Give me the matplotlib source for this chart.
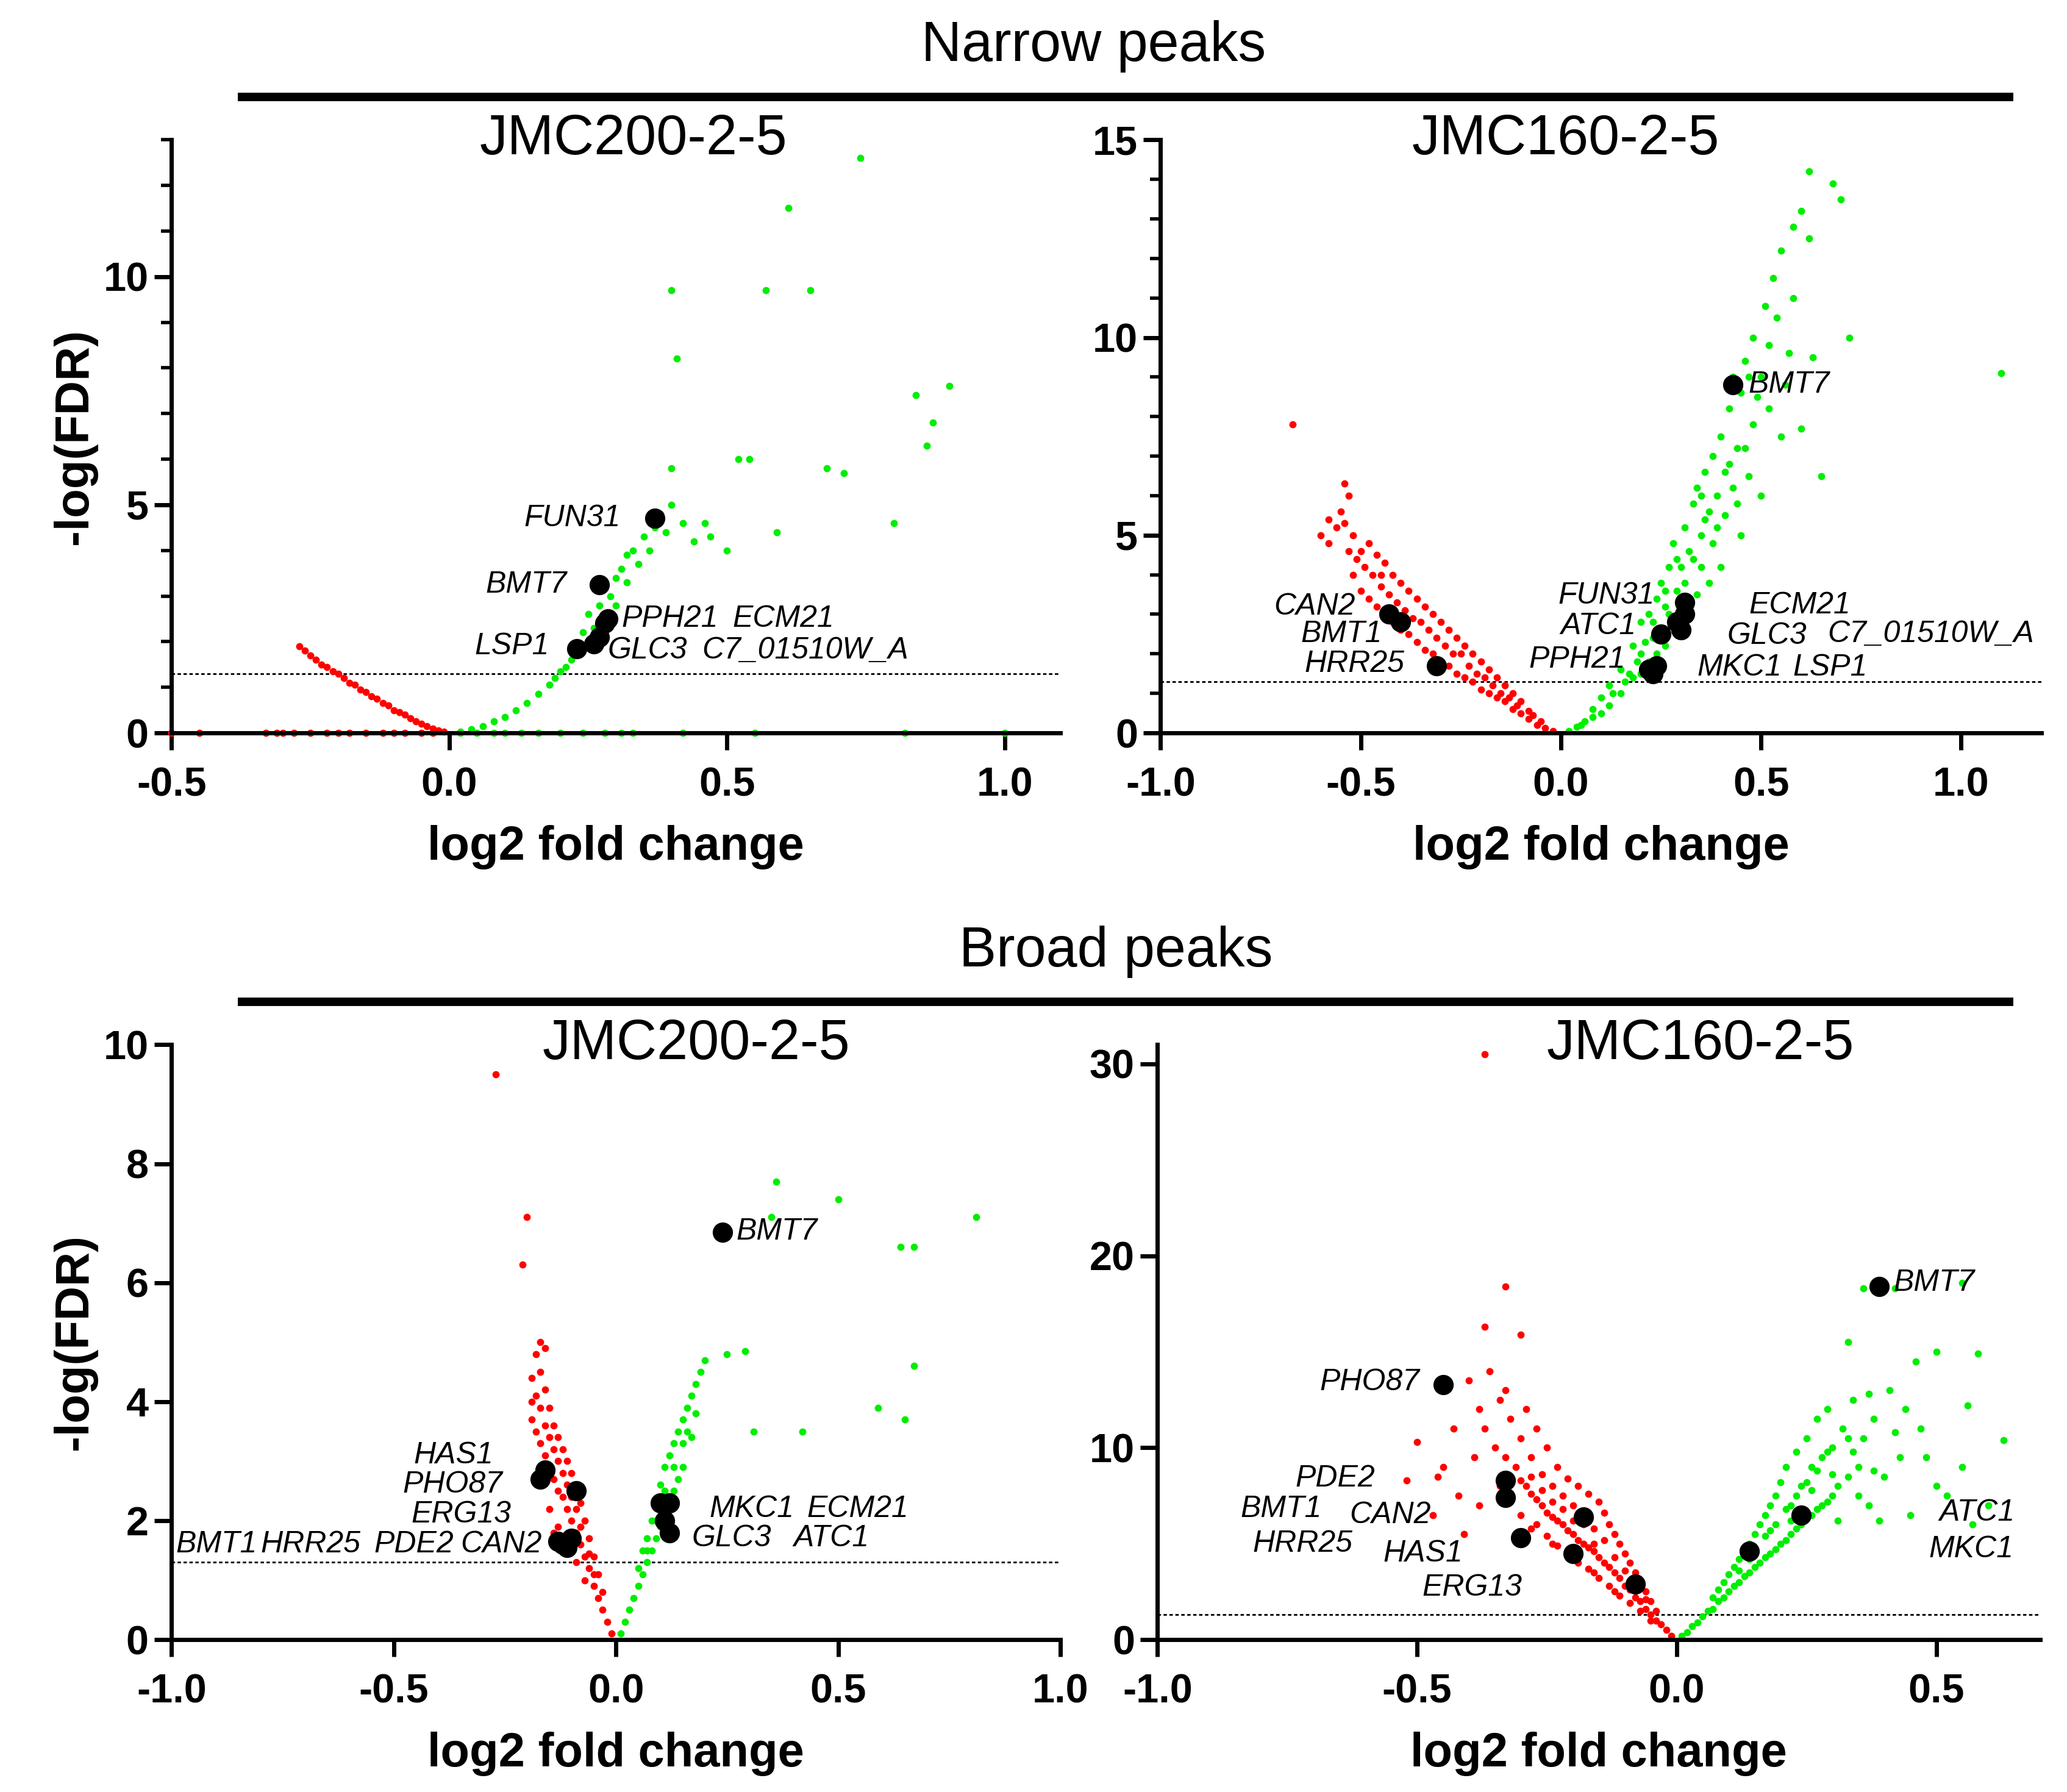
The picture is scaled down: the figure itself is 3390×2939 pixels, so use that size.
import numpy as np
import matplotlib.pyplot as plt
from matplotlib.ticker import MultipleLocator

plt.rcParams['font.family'] = 'Liberation Sans'

RED = '#ff0000'
GREEN = '#00ee00'

# ---------- Narrow peaks / JMC200-2-5 ----------
a_red = [(-0.5, 0), (-0.45, 0), (-0.33, 0), (-0.31, 0), (-0.3, 0), (-0.28, 0), (-0.25, 0), (-0.22, 0),
         (-0.2, 0), (-0.18, 0), (-0.15, 0), (-0.12, 0), (-0.1, 0), (-0.08, 0), (-0.05, 0), (-0.03, 0),
         (-0.27, 1.9), (-0.26, 1.8), (-0.25, 1.7), (-0.24, 1.6), (-0.23, 1.5), (-0.22, 1.45), (-0.21, 1.35),
         (-0.2, 1.3), (-0.19, 1.2), (-0.18, 1.1), (-0.17, 1.05), (-0.16, 0.95), (-0.15, 0.9), (-0.14, 0.8),
         (-0.13, 0.75), (-0.12, 0.65), (-0.11, 0.6), (-0.1, 0.5), (-0.09, 0.45), (-0.08, 0.4), (-0.07, 0.32),
         (-0.06, 0.26), (-0.05, 0.2), (-0.04, 0.15), (-0.03, 0.1), (-0.02, 0.06), (-0.01, 0.03)]
a_green = [(0.02, 0), (0.05, 0), (0.08, 0), (0.1, 0), (0.13, 0), (0.16, 0), (0.2, 0), (0.24, 0), (0.28, 0),
           (0.31, 0), (0.33, 0), (0.42, 0), (0.55, 0), (0.82, 0), (1.0, 0),
           (0.02, 0.03), (0.04, 0.08), (0.06, 0.15), (0.08, 0.25), (0.1, 0.35), (0.12, 0.5), (0.14, 0.65),
           (0.16, 0.85), (0.18, 1.05), (0.19, 1.2), (0.2, 1.35), (0.21, 1.45), (0.22, 1.6), (0.23, 1.75),
           (0.24, 2.2), (0.25, 2.0), (0.25, 2.6), (0.26, 2.3), (0.27, 2.8), (0.28, 2.6), (0.28, 3.2),
           (0.29, 3.0), (0.3, 3.4), (0.3, 2.8), (0.31, 3.6), (0.32, 3.3), (0.32, 3.9), (0.33, 4.0),
           (0.34, 3.7), (0.35, 4.3), (0.36, 4.0), (0.37, 4.5), (0.38, 4.8), (0.39, 4.4), (0.4, 5.0),
           (0.42, 4.6), (0.44, 4.2), (0.46, 4.6), (0.47, 4.3), (0.5, 4.0),
           (0.74, 12.6), (0.61, 11.5), (0.4, 9.7), (0.57, 9.7), (0.65, 9.7), (0.41, 8.2), (0.9, 7.6),
           (0.84, 7.4), (0.87, 6.8), (0.86, 6.3), (0.52, 6.0), (0.54, 6.0), (0.68, 5.8), (0.71, 5.7),
           (0.4, 5.8), (0.8, 4.6), (0.59, 4.4)]
a_genes = ['FUN31', 'BMT7', 'PPH21', 'ECM21', 'LSP1', 'GLC3', 'C7_01510W_A']
a_gx = [0.37, 0.27, 0.28, 0.285, 0.23, 0.26, 0.27]
a_gy = [4.7, 3.25, 2.4, 2.5, 1.85, 1.95, 2.1]
a_lx = [0.135, 0.065, 0.31, 0.51, 0.046, 0.285, 0.455]
a_ly = [4.7, 3.25, 2.5, 2.5, 1.9, 1.8, 1.8]

# ---------- Narrow peaks / JMC160-2-5 ----------
b_red = [(-0.02, 0.05), (-0.04, 0.12), (-0.05, 0.3), (-0.06, 0.2), (-0.08, 0.35), (-0.08, 0.55), (-0.1, 0.5),
         (-0.1, 0.8), (-0.12, 0.6), (-0.12, 1.0), (-0.14, 0.8), (-0.14, 1.2), (-0.16, 0.9), (-0.16, 1.4),
         (-0.18, 1.0), (-0.18, 1.6), (-0.2, 1.1), (-0.2, 1.8), (-0.22, 1.3), (-0.22, 2.0), (-0.24, 1.4),
         (-0.24, 2.2), (-0.26, 1.5), (-0.26, 2.4), (-0.28, 1.7), (-0.28, 2.6), (-0.3, 1.8), (-0.3, 2.8),
         (-0.32, 2.0), (-0.32, 3.0), (-0.34, 2.1), (-0.34, 3.2), (-0.36, 2.3), (-0.36, 3.4), (-0.38, 2.5),
         (-0.38, 3.6), (-0.4, 2.6), (-0.4, 3.8), (-0.42, 2.8), (-0.42, 4.0), (-0.44, 3.0), (-0.44, 4.3),
         (-0.46, 3.2), (-0.46, 4.5), (-0.48, 3.4), (-0.48, 4.8), (-0.5, 3.6), (-0.5, 4.6), (-0.52, 4.0),
         (-0.52, 5.0), (-0.54, 5.3), (-0.55, 5.6), (-0.53, 6.0), (-0.54, 6.3), (-0.56, 5.2), (-0.58, 5.4),
         (-0.6, 5.0), (-0.58, 4.8), (-0.67, 7.8), (-0.25, 2.0), (-0.33, 2.6), (-0.41, 3.3), (-0.47, 4.0),
         (-0.19, 1.4), (-0.35, 2.8), (-0.45, 3.7), (-0.29, 2.2), (-0.07, 0.45), (-0.11, 0.7), (-0.15, 1.0),
         (-0.21, 1.5), (-0.27, 2.0), (-0.31, 2.4), (-0.37, 2.9), (-0.43, 3.5), (-0.49, 4.2), (-0.39, 3.1),
         (-0.23, 1.7), (-0.17, 1.2), (-0.13, 0.9), (-0.51, 4.4), (-0.45, 4.0), (-0.53, 4.6)]
b_green = [(0.02, 0.05), (0.04, 0.15), (0.05, 0.2), (0.06, 0.3), (0.08, 0.4), (0.08, 0.6), (0.1, 0.5),
           (0.1, 0.9), (0.12, 0.7), (0.12, 1.2), (0.13, 1.0), (0.15, 1.0), (0.15, 1.6), (0.16, 1.3),
           (0.17, 1.5), (0.18, 1.4), (0.18, 2.2), (0.2, 1.5), (0.2, 2.0), (0.2, 2.8), (0.21, 2.3),
           (0.22, 1.8), (0.22, 3.0), (0.23, 2.4), (0.24, 2.0), (0.24, 3.4), (0.25, 2.6), (0.25, 3.8),
           (0.26, 2.2), (0.26, 3.2), (0.27, 4.2), (0.28, 2.8), (0.28, 4.8), (0.29, 3.6), (0.3, 2.5),
           (0.3, 4.2), (0.31, 5.2), (0.32, 3.0), (0.32, 4.6), (0.33, 5.8), (0.34, 3.5), (0.34, 6.2),
           (0.35, 4.2), (0.35, 5.0), (0.36, 6.6), (0.37, 3.8), (0.37, 5.6), (0.38, 4.8), (0.38, 7.0),
           (0.39, 6.0), (0.4, 4.2), (0.4, 7.5), (0.41, 5.5), (0.42, 6.8), (0.42, 8.2), (0.43, 6.2),
           (0.44, 7.2), (0.45, 5.0), (0.45, 8.6), (0.46, 9.4), (0.47, 6.5), (0.48, 7.8), (0.48, 10.0),
           (0.5, 6.0), (0.5, 9.0), (0.51, 10.8), (0.52, 8.2), (0.53, 11.5), (0.55, 7.5), (0.55, 12.2),
           (0.57, 9.6), (0.58, 11.0), (0.6, 13.2), (0.62, 12.5), (0.63, 9.5), (0.65, 6.5), (0.62, 14.2),
           (0.68, 13.9), (0.7, 13.5), (0.72, 10.0), (0.6, 7.7), (1.1, 9.1), (0.27, 3.0), (0.29, 4.4),
           (0.31, 3.8), (0.33, 4.4), (0.36, 5.4), (0.39, 5.2), (0.41, 6.6), (0.44, 5.8), (0.46, 7.2),
           (0.49, 8.5), (0.52, 9.8), (0.19, 1.8), (0.23, 2.8), (0.26, 3.6), (0.35, 6.0), (0.43, 9.0),
           (0.47, 9.0), (0.54, 10.5), (0.56, 8.8), (0.58, 12.8)]
b_genes = ['BMT7', 'FUN31', 'ATC1', 'ECM21', 'GLC3', 'C7_01510W_A', 'PPH21', 'MKC1', 'LSP1',
           'CAN2', 'BMT1', 'HRR25']
b_gx = [0.43, 0.31, 0.25, 0.31, 0.3, 0.29, 0.22, 0.23, 0.24, -0.43, -0.4, -0.31]
b_gy = [8.8, 3.3, 2.5, 3.0, 2.6, 2.8, 1.6, 1.5, 1.7, 3.0, 2.8, 1.7]
b_lx = [0.469, -0.007, 0.0, 0.47, 0.415, 0.666, -0.08, 0.34, 0.58, -0.717, -0.65, -0.64]
b_ly = [8.8, 3.47, 2.7, 3.23, 2.46, 2.5, 1.85, 1.65, 1.65, 3.2, 2.5, 1.75]

# ---------- Broad peaks / JMC200-2-5 ----------
c_red = [(-0.01, 0.1), (-0.02, 0.3), (-0.03, 0.5), (-0.03, 0.8), (-0.04, 0.7), (-0.04, 1.1), (-0.05, 0.9),
         (-0.05, 1.4), (-0.06, 1.2), (-0.06, 1.7), (-0.07, 1.4), (-0.07, 2.0), (-0.08, 1.6), (-0.08, 2.3),
         (-0.09, 1.8), (-0.09, 2.6), (-0.1, 2.0), (-0.1, 2.8), (-0.11, 2.2), (-0.11, 3.0), (-0.12, 2.4),
         (-0.12, 3.2), (-0.13, 2.5), (-0.13, 3.4), (-0.14, 2.7), (-0.14, 3.6), (-0.15, 2.9), (-0.15, 3.9),
         (-0.16, 3.1), (-0.16, 4.2), (-0.17, 3.3), (-0.17, 4.5), (-0.18, 3.5), (-0.18, 4.8), (-0.17, 5.0),
         (-0.16, 4.9), (-0.19, 3.7), (-0.19, 4.0), (-0.15, 2.2), (-0.13, 1.9), (-0.11, 1.6), (-0.09, 1.3),
         (-0.07, 1.0), (-0.14, 1.8), (-0.12, 1.5), (-0.27, 9.5), (-0.2, 7.1), (-0.21, 6.3),
         (-0.05, 1.1), (-0.06, 1.45), (-0.08, 1.9), (-0.1, 2.4), (-0.12, 2.8), (-0.14, 3.2), (-0.16, 3.6),
         (-0.18, 4.1), (-0.13, 3.0), (-0.15, 3.4), (-0.17, 3.9), (-0.11, 2.6), (-0.09, 2.2), (-0.19, 4.4)]
c_green = [(0.01, 0.1), (0.02, 0.3), (0.03, 0.5), (0.04, 0.7), (0.05, 0.9), (0.05, 1.2), (0.06, 1.1),
           (0.06, 1.5), (0.07, 1.3), (0.07, 1.7), (0.08, 1.5), (0.08, 2.0), (0.09, 1.7), (0.09, 2.3),
           (0.1, 1.9), (0.1, 2.6), (0.11, 2.1), (0.11, 2.9), (0.12, 2.3), (0.12, 3.1), (0.13, 2.5),
           (0.13, 3.3), (0.14, 2.7), (0.14, 3.5), (0.15, 2.9), (0.15, 3.7), (0.16, 3.9), (0.17, 3.4),
           (0.17, 4.1), (0.18, 4.3), (0.19, 4.5), (0.2, 4.7), (0.25, 4.8), (0.29, 4.85),
           (0.36, 7.7), (0.5, 7.4), (0.81, 7.1), (0.35, 7.1), (0.64, 6.6), (0.67, 6.6), (0.67, 4.6),
           (0.59, 3.9), (0.65, 3.7), (0.42, 3.5), (0.31, 3.5), (0.07, 1.5), (0.09, 2.0), (0.11, 2.5),
           (0.13, 2.9), (0.15, 3.3), (0.16, 3.5), (0.18, 3.8)]
c_genes = ['BMT7', 'HAS1', 'PHO87', 'ERG13', 'BMT1', 'HRR25', 'PDE2', 'CAN2', 'MKC1', 'ECM21', 'GLC3', 'ATC1']
c_gx = [0.24, -0.16, -0.17, -0.09, -0.12, -0.11, -0.1, -0.13, 0.1, 0.12, 0.12, 0.11]
c_gy = [6.85, 2.85, 2.7, 2.5, 1.6, 1.55, 1.7, 1.65, 2.3, 2.3, 1.8, 2.0]
c_lx = [0.27, -0.455, -0.48, -0.46, -0.99, -0.8, -0.545, -0.35, 0.21, 0.43, 0.17, 0.4]
c_ly = [6.86, 3.1, 2.6, 2.1, 1.6, 1.6, 1.6, 1.6, 2.2, 2.2, 1.7, 1.7]

# ---------- Broad peaks / JMC160-2-5 ----------
d_red = [(-0.01, 0.2), (-0.02, 0.5), (-0.03, 0.8), (-0.04, 1.0), (-0.04, 1.5), (-0.05, 1.3), (-0.05, 2.0),
         (-0.06, 1.6), (-0.06, 2.5), (-0.07, 2.0), (-0.07, 3.0), (-0.08, 2.2), (-0.08, 3.5), (-0.09, 2.6),
         (-0.09, 4.0), (-0.1, 2.8), (-0.1, 4.5), (-0.11, 3.2), (-0.11, 5.0), (-0.12, 3.5), (-0.12, 5.5),
         (-0.13, 3.8), (-0.13, 6.0), (-0.14, 4.0), (-0.14, 6.6), (-0.15, 4.3), (-0.15, 7.2), (-0.16, 4.6),
         (-0.16, 5.8), (-0.17, 4.8), (-0.17, 7.6), (-0.18, 5.0), (-0.18, 6.5), (-0.19, 5.2), (-0.19, 8.0),
         (-0.2, 5.5), (-0.2, 7.0), (-0.21, 5.7), (-0.21, 8.4), (-0.22, 6.0), (-0.22, 7.5), (-0.23, 6.2),
         (-0.23, 9.0), (-0.24, 6.4), (-0.24, 8.0), (-0.25, 6.6), (-0.25, 10.0), (-0.26, 7.0), (-0.26, 8.6),
         (-0.27, 7.3), (-0.27, 11.0), (-0.28, 7.6), (-0.28, 9.5), (-0.29, 8.0), (-0.29, 12.0), (-0.3, 8.3),
         (-0.3, 10.5), (-0.31, 9.0), (-0.32, 11.5), (-0.33, 9.5), (-0.33, 13.0), (-0.34, 12.5), (-0.35, 10.0),
         (-0.36, 14.0), (-0.37, 11.0), (-0.38, 12.0), (-0.39, 9.5), (-0.4, 13.5), (-0.42, 7.5), (-0.43, 11.0),
         (-0.45, 9.0), (-0.47, 6.5), (-0.5, 10.3), (-0.52, 8.3), (-0.41, 5.5), (-0.33, 18.4), (-0.37, 16.3),
         (-0.3, 15.9), (-0.37, 30.5), (-0.46, 8.5), (-0.38, 7.0), (-0.12, 2.5), (-0.16, 3.5), (-0.2, 4.2),
         (-0.24, 5.0), (-0.28, 5.8), (-0.05, 1.0), (-0.07, 1.5), (-0.09, 1.9), (-0.11, 2.3), (-0.13, 2.8),
         (-0.15, 3.2), (-0.17, 3.7), (-0.19, 4.0), (-0.21, 4.5), (-0.23, 4.9), (-0.25, 5.4), (-0.27, 6.0),
         (-0.14, 5.2), (-0.18, 6.0), (-0.22, 6.8), (-0.26, 7.8), (-0.3, 6.5), (-0.34, 8.0), (-0.1, 3.6),
         (-0.08, 2.9), (-0.06, 2.1), (-0.12, 4.3), (-0.16, 5.0), (-0.2, 6.2), (-0.24, 7.2), (-0.28, 8.5)]
d_green = [(0.01, 0.2), (0.02, 0.4), (0.03, 0.7), (0.04, 0.9), (0.05, 1.2), (0.06, 1.5), (0.07, 1.6),
           (0.07, 2.2), (0.08, 2.0), (0.08, 2.6), (0.09, 2.2), (0.09, 3.0), (0.1, 2.5), (0.1, 3.4),
           (0.11, 2.8), (0.11, 3.8), (0.12, 3.0), (0.12, 4.2), (0.13, 3.3), (0.13, 4.6), (0.14, 3.5),
           (0.14, 5.0), (0.15, 3.8), (0.15, 5.5), (0.16, 4.0), (0.16, 6.0), (0.17, 4.3), (0.17, 6.5),
           (0.18, 4.5), (0.18, 7.0), (0.19, 4.7), (0.19, 7.5), (0.2, 5.0), (0.2, 8.2), (0.21, 5.2),
           (0.21, 9.0), (0.22, 5.5), (0.22, 7.0), (0.23, 5.8), (0.23, 9.8), (0.24, 6.0), (0.24, 8.0),
           (0.25, 6.3), (0.25, 10.5), (0.26, 6.5), (0.26, 9.0), (0.27, 6.8), (0.27, 11.5), (0.28, 7.0),
           (0.28, 9.5), (0.29, 7.2), (0.29, 12.0), (0.3, 7.5), (0.3, 10.0), (0.31, 8.0), (0.32, 11.0),
           (0.33, 8.5), (0.34, 12.5), (0.35, 9.0), (0.36, 10.5), (0.37, 7.0), (0.38, 11.5), (0.4, 8.5),
           (0.41, 13.0), (0.43, 9.5), (0.45, 6.5), (0.47, 11.0), (0.5, 8.0), (0.52, 7.5), (0.55, 9.0),
           (0.57, 6.0), (0.6, 7.0), (0.55, 18.6), (0.5, 15.0), (0.58, 14.9), (0.63, 10.4), (0.56, 12.2),
           (0.42, 18.3), (0.36, 18.3), (0.46, 14.5), (0.33, 15.5), (0.15, 4.6), (0.17, 5.4), (0.19, 6.0),
           (0.21, 6.8), (0.23, 7.5), (0.25, 8.2), (0.27, 8.8), (0.29, 9.8), (0.31, 6.2), (0.33, 10.5),
           (0.35, 7.5), (0.38, 8.8), (0.42, 10.8), (0.44, 12.0), (0.48, 9.5), (0.39, 6.2), (0.12, 3.6),
           (0.14, 4.2), (0.18, 5.7), (0.22, 6.2), (0.26, 7.8), (0.3, 8.6), (0.34, 9.8), (0.37, 12.8)]
d_genes = ['BMT7', 'PHO87', 'PDE2', 'BMT1', 'CAN2', 'HRR25', 'HAS1', 'ERG13', 'ATC1', 'MKC1']
d_gx = [0.39, -0.45, -0.33, -0.33, -0.18, -0.3, -0.2, -0.08, 0.24, 0.14]
d_gy = [18.4, 13.3, 8.3, 7.4, 6.4, 5.3, 4.5, 2.9, 6.5, 4.6]
d_lx = [0.417, -0.687, -0.735, -0.84, -0.63, -0.817, -0.565, -0.49, 0.506, 0.486]
d_ly = [18.6, 13.4, 8.4, 6.8, 6.5, 5.0, 4.5, 2.7, 6.6, 4.7]

fig = plt.figure(figsize=(16.95, 14.695), dpi=200)


def panel(rect, red, green, gx, gy, genes, lx, ly, xlim, ylim, xticks, ymaj, ymin, title, title_x):
    ax = fig.add_axes(rect)
    rx, ry = zip(*red)
    gxs, gys = zip(*green)
    ax.scatter(rx, ry, s=18, color=RED, lw=0, zorder=2, clip_on=False)
    ax.scatter(gxs, gys, s=18, color=GREEN, lw=0, zorder=2, clip_on=False)
    ax.scatter(gx, gy, s=120, color='black', zorder=3, clip_on=False)
    for g, x, y in zip(genes, lx, ly):
        ax.text(x, y, g, style='italic', fontsize=18, va='center', ha='left', zorder=4)
    ax.axhline(1.3, color='black', ls=(0, (2, 1.5)), lw=1.0, zorder=1)
    ax.set_xlim(*xlim)
    ax.set_ylim(*ylim)
    ax.set_xticks(xticks)
    ax.set_xticklabels([f'{t:.1f}' for t in xticks])
    ax.yaxis.set_major_locator(MultipleLocator(ymaj))
    if ymin:
        ax.yaxis.set_minor_locator(MultipleLocator(ymin))
    for s in ['top', 'right']:
        ax.spines[s].set_visible(False)
    for s in ['left', 'bottom']:
        ax.spines[s].set_linewidth(2.5)
    ax.tick_params(which='major', width=2.5, length=10, labelsize=24)
    ax.tick_params(axis='x', which='major', pad=10)
    ax.tick_params(which='minor', width=2, length=6)
    for lab in ax.get_xticklabels() + ax.get_yticklabels():
        lab.set_fontweight('bold')
    ax.set_xlabel('log2 fold change', fontsize=28, fontweight='bold', labelpad=12)
    ax.text(title_x, 1.0, title, transform=ax.transAxes, fontsize=33, ha='center', va='center')
    return ax


axA = panel([0.083, 0.591, 0.43, 0.331], a_red, a_green, a_gx, a_gy, a_genes, a_lx, a_ly,
            (-0.5, 1.1), (0, 13), [-0.5, 0.0, 0.5, 1.0], 5, 1, 'JMC200-2-5', 0.52)
axB = panel([0.5615, 0.591, 0.426, 0.331], b_red, b_green, b_gx, b_gy, b_genes, b_lx, b_ly,
            (-1.0, 1.2), (0, 15), [-1.0, -0.5, 0.0, 0.5, 1.0], 5, 1, 'JMC160-2-5', 0.46)
axC = panel([0.083, 0.085, 0.43, 0.332], c_red, c_green, c_gx, c_gy, c_genes, c_lx, c_ly,
            (-1.0, 1.0), (0, 10), [-1.0, -0.5, 0.0, 0.5, 1.0], 2, None, 'JMC200-2-5', 0.59)
axD = panel([0.56, 0.085, 0.427, 0.332], d_red, d_green, d_gx, d_gy, d_genes, d_lx, d_ly,
            (-1.0, 0.7), (0, 31), [-1.0, -0.5, 0.0, 0.5], 10, None, 'JMC160-2-5', 0.615)
axA.set_ylabel('-log(FDR)', fontsize=28, fontweight='bold')
axC.set_ylabel('-log(FDR)', fontsize=28, fontweight='bold')

for xtext, ytext, ybar, label in [(0.529, 0.974, 0.946, 'Narrow peaks'), (0.54, 0.469, 0.441, 'Broad peaks')]:
    fig.text(xtext, ytext, label, fontsize=33, ha='center', va='center')
    fig.add_artist(plt.Line2D([0.117, 0.972], [ybar, ybar], color='black', lw=5))

fig.savefig('out.png', dpi=200)
